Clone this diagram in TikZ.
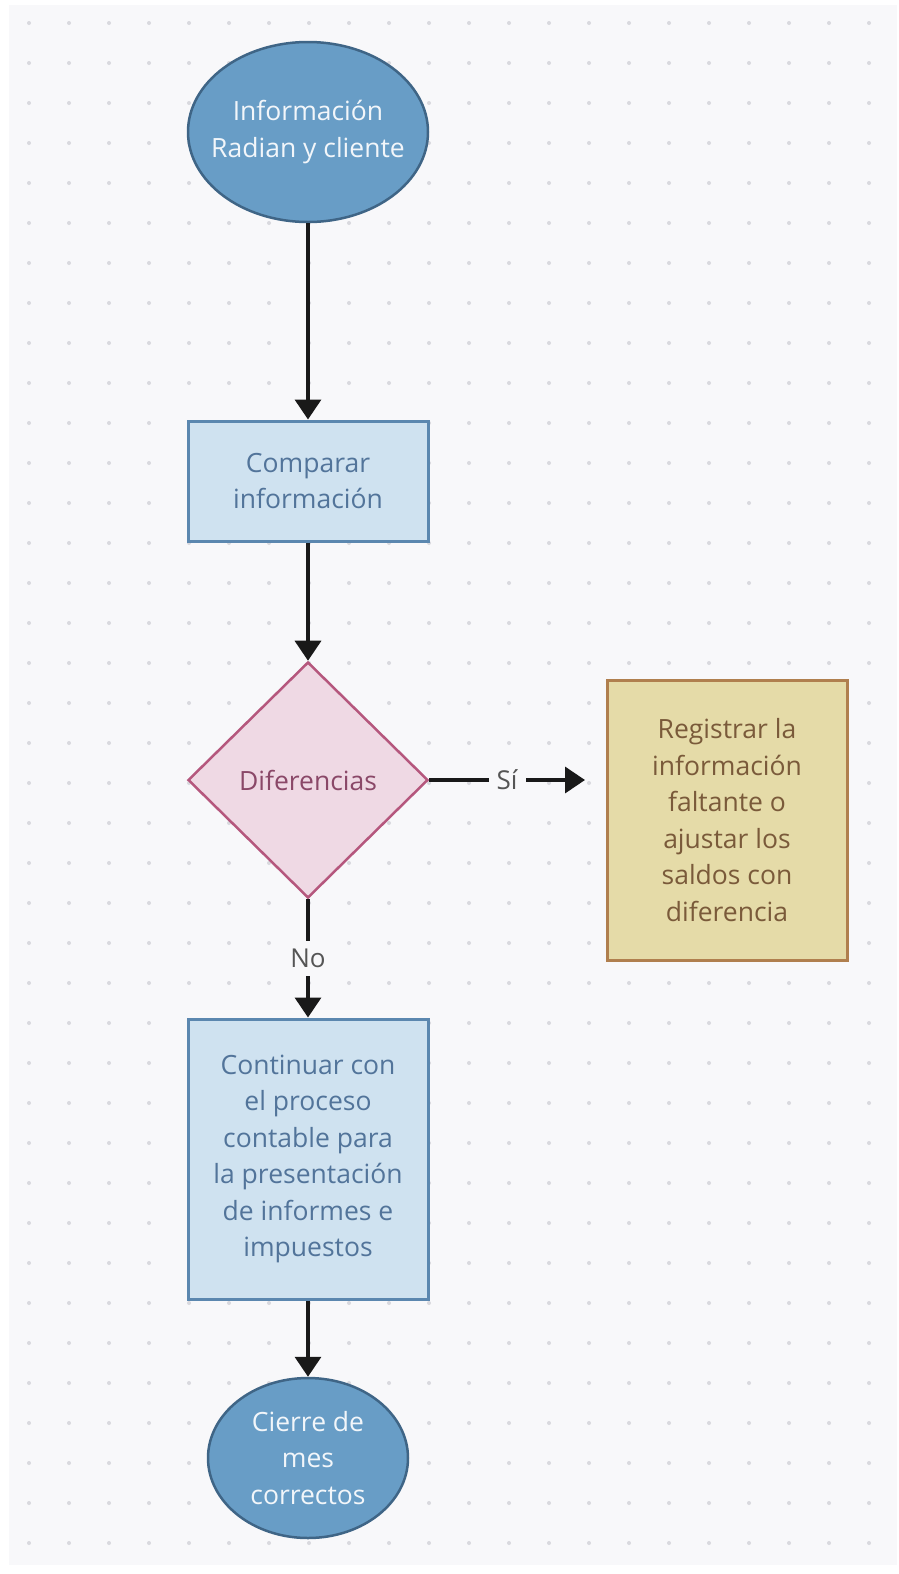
\documentclass[tikz,border=0pt]{standalone}
\usepackage{fontspec}
\setmainfont{Open Sans}
\usetikzlibrary{shapes.geometric,arrows.meta}
\definecolor{bgc}{HTML}{F8F8FA}
\definecolor{dotc}{HTML}{D9D9DE}
\definecolor{termfill}{HTML}{689DC6}
\definecolor{termdraw}{HTML}{3F6586}
\definecolor{termtext}{HTML}{F2F6FA}
\definecolor{procfill}{HTML}{CFE2F0}
\definecolor{procdraw}{HTML}{5B87AF}
\definecolor{proctext}{HTML}{52749A}
\definecolor{decfill}{HTML}{EFD9E4}
\definecolor{decdraw}{HTML}{B5577D}
\definecolor{dectext}{HTML}{8A4868}
\definecolor{yelfill}{HTML}{E5DBA8}
\definecolor{yeldraw}{HTML}{B07F4E}
\definecolor{yeltext}{HTML}{7A5A3A}
\definecolor{lbltext}{HTML}{555555}
\tikzset{
  txt/.style={font=\fontsize{26.5}{36.5}\selectfont, align=center, inner sep=0pt},
  term/.style={txt, ellipse, fill=termfill, draw=termdraw, line width=2.5pt, text=termtext},
  proc/.style={txt, rectangle, fill=procfill, draw=procdraw, line width=3pt, text=proctext, minimum width=240pt},
  dec/.style={txt, diamond, fill=decfill, draw=decdraw, line width=2.5pt, text=dectext, minimum width=240pt, minimum height=236pt},
  yel/.style={txt, rectangle, fill=yelfill, draw=yeldraw, line width=3pt, text=yeltext, minimum width=240pt, minimum height=280pt},
  conn/.style={line width=3.5pt, black!90, -{Triangle[length=20pt,width=26pt]}},
  lbl/.style={font=\fontsize{26}{30}\selectfont, text=lbltext, fill=bgc, inner sep=8pt}
}
\begin{document}
\begin{tikzpicture}[x=1pt,y=-1pt]
\useasboundingbox (0,0) rectangle (899,1574);
\fill[white] (0,0) rectangle (899,1574);
\fill[bgc] (9,5) rectangle (897,1565);
\foreach \xx in {29,69,...,869}{
  \foreach \yy in {23,63,...,1543}{
    \fill[dotc] (\xx,\yy) circle (2pt);
  }
}
\node[term, inner xsep=-20pt, minimum width=240pt, minimum height=180pt] (start) at (308,132) {Información\\Radian y cliente};
\node[proc, minimum height=120pt] (comp) at (308,481) {Comparar\\información};
\node[dec] (dif) at (308,780) {Diferencias};
\node[yel] (reg) at (727,820) {Registrar la\\información\\faltante o\\ajustar los\\saldos con\\diferencia};
\node[proc, minimum height=280pt] (cont) at (308,1159) {Continuar con\\el proceso\\contable para\\la presentación\\de informes e\\impuestos};
\node[term, minimum width=200pt, minimum height=160pt] (fin) at (308,1458) {Cierre de\\mes\\correctos};
\coordinate (siend) at (585,780);
\draw[conn] (start) -- (comp);
\draw[conn] (comp) -- (dif);
\draw[conn] (dif.east) -- node[lbl] (si) {Sí} (siend);
\draw[conn] (dif.south) -- node[lbl] (no) {No} (cont.north);
\draw[conn] (cont) -- (fin);
\end{tikzpicture}
\end{document}
